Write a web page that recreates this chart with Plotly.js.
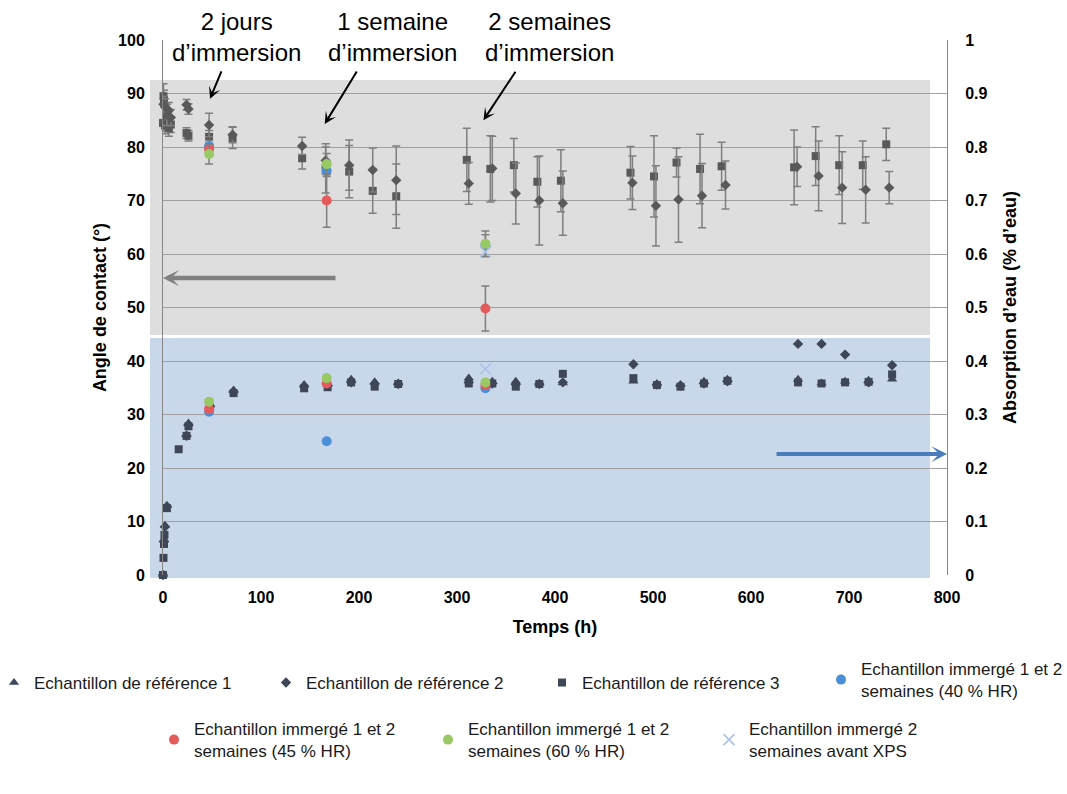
<!DOCTYPE html>
<html><head><meta charset="utf-8">
<script src="https://cdn.plot.ly/plotly-3.0.1.min.js"></script>
<style>html,body{margin:0;padding:0;background:#fff}#chart{width:1067px;height:794px}</style>
</head><body><div id="chart"></div>
<script>
// ---- Water absorption (fraction, right axis) ----
const ref1Time  = [0, 1, 2, 4, 24, 26, 48, 72, 144, 168, 192, 216, 240, 312, 336, 360, 384, 408, 480, 504, 528, 552, 576, 648, 672, 696, 720, 744];
const ref1Water = [0, 0.067, 0.093, 0.13, 0.262, 0.284, 0.318, 0.346, 0.356, 0.357, 0.366, 0.361, 0.359, 0.368, 0.362, 0.362, 0.358, 0.359, 0.362, 0.357, 0.356, 0.362, 0.366, 0.366, 0.359, 0.362, 0.364, 0.366];
const ref2Time  = [0, 1, 2, 4, 24, 26, 48, 72, 144, 168, 192, 216, 240, 312, 336, 360, 384, 408, 480, 504, 528, 552, 576, 648, 672, 696, 720, 744];
const ref2Water = [0, 0.062, 0.09, 0.128, 0.26, 0.28, 0.315, 0.342, 0.352, 0.354, 0.36, 0.357, 0.357, 0.36, 0.358, 0.356, 0.357, 0.36, 0.394, 0.356, 0.354, 0.358, 0.362, 0.432, 0.432, 0.412, 0.36, 0.392];
const ref3Time  = [0, 0.5, 1, 1.5, 4, 16, 24, 26, 48, 72, 144, 168, 192, 216, 240, 312, 336, 360, 384, 408, 480, 504, 528, 552, 576, 648, 672, 696, 720, 744];
const ref3Water = [0, 0.032, 0.058, 0.075, 0.125, 0.235, 0.26, 0.278, 0.313, 0.34, 0.349, 0.351, 0.36, 0.352, 0.357, 0.358, 0.358, 0.352, 0.357, 0.376, 0.368, 0.355, 0.352, 0.358, 0.363, 0.36, 0.358, 0.36, 0.361, 0.375];

// ---- Contact angle (degrees, left axis) ----
const ref2AngleTime = [0.5, 2, 4, 6, 8, 24, 26, 47, 71, 142, 166, 190, 214, 238, 312, 336, 360, 384, 408, 479, 503, 526, 550, 574, 647, 669, 693, 717, 741];
const ref2Angle     = [88, 87.5, 86, 86.8, 85.5, 87.9, 87.1, 84.1, 82.3, 80.2, 77.5, 76.6, 75.7, 73.8, 73.2, 76, 71.3, 70, 69.5, 73.3, 69.0, 70.2, 70.9, 72.9, 76.3, 74.6, 72.4, 72.0, 72.4];
const ref2AngleErr  = [1.5, 1.5, 2, 1.5, 1.5, 1, 1, 2.2, 1.5, 1.6, 2.5, 4.7, 4.1, 6.4, 3.9, 6, 5.7, 8.3, 6, 5, 7.5, 8, 6, 4.5, 3.7, 6.5, 6.7, 6.2, 3];
const ref3AngleTime = [0, 0.5, 1, 2, 4, 6, 8, 24, 26, 47, 71, 142, 166, 190, 214, 238, 310, 334, 358, 382, 406, 477, 501, 524, 548, 570, 644, 666, 690, 714, 738];
const ref3Angle     = [84.5, 89.5, 88.8, 84, 85.5, 83.5, 84.2, 82.6, 82.1, 81.9, 81.7, 77.9, 76, 75.4, 71.8, 70.8, 77.6, 75.9, 76.6, 73.5, 73.7, 75.2, 74.5, 77.1, 75.9, 76.4, 76.2, 78.3, 76.6, 76.6, 80.5];
const ref3AngleErr  = [1.5, 2.3, 1.8, 1.5, 1.8, 1.5, 1.5, 1, 1, 1.2, 2, 2, 4.6, 4.9, 4.2, 6, 5.9, 6.2, 5, 4.7, 5.8, 4.9, 7.6, 2.7, 6.5, 4.5, 7, 5.5, 5.5, 4.5, 3];

// ---- Immersed samples ----
const immTime = [47, 167, 329];
const imm40Angle = [80.2, 75.5, 61.6], imm40AngleErr = [1, 1, 2],   imm40Water = [0.305, 0.25, 0.349];
const imm45Angle = [79.6, 70, 49.8],   imm45AngleErr = [1, 5, 4.2], imm45Water = [0.31, 0.358, 0.355];
const imm60Angle = [78.7, 76.8, 61.9], imm60AngleErr = [1.9, 2, 2.4], imm60Water = [0.324, 0.368, 0.36];
const xpsTime = [329], xpsAngle = [60.4], xpsWater = [0.385];

// ---- Labels ----
const names = [
  'Echantillon de référence 1',
  'Echantillon de référence 2',
  'Echantillon de référence 3',
  'Echantillon immergé 1 et 2<br>semaines (40 % HR)',
  'Echantillon immergé 1 et 2<br>semaines (45 % HR)',
  'Echantillon immergé 1 et 2<br>semaines (60 % HR)',
  'Echantillon immergé 2<br>semaines avant XPS'
];
const FONT = 'Liberation Sans, Arial, sans-serif';
const caGray = '#595959', waterDark = '#3d4758';
const cBlue = '#4a90d9', cRed = '#e55a5a', cGreen = '#98c965', cX = '#a9c0e4';
const err = (arr) => ({type:'data', array:arr, visible:true, color:'#7f7f7f', thickness:1.5, width:4});

const traces = [
  // contact angle (left axis), not in legend
  {x:ref3AngleTime, y:ref3Angle, error_y:err(ref3AngleErr), mode:'markers', type:'scatter', yaxis:'y', showlegend:false, cliponaxis:false,
   marker:{symbol:'square', size:8, color:caGray}},
  {x:ref2AngleTime, y:ref2Angle, error_y:err(ref2AngleErr), mode:'markers', type:'scatter', yaxis:'y', showlegend:false, cliponaxis:false,
   marker:{symbol:'diamond', size:8, color:caGray}},
  {x:immTime, y:imm40Angle, error_y:err(imm40AngleErr), mode:'markers', type:'scatter', yaxis:'y', showlegend:false, cliponaxis:false,
   marker:{symbol:'circle', size:10, color:cBlue}},
  {x:immTime, y:imm45Angle, error_y:err(imm45AngleErr), mode:'markers', type:'scatter', yaxis:'y', showlegend:false, cliponaxis:false,
   marker:{symbol:'circle', size:10, color:cRed}},
  {x:immTime, y:imm60Angle, error_y:err(imm60AngleErr), mode:'markers', type:'scatter', yaxis:'y', showlegend:false, cliponaxis:false,
   marker:{symbol:'circle', size:10, color:cGreen}},
  {x:xpsTime, y:xpsAngle, mode:'markers', type:'scatter', yaxis:'y', showlegend:false, cliponaxis:false,
   marker:{symbol:'x-thin-open', size:11, color:cX, line:{width:1.5, color:cX}}},
  // water absorption (right axis), in legends
  {x:ref1Time, y:ref1Water, name:names[0], legend:'legend', mode:'markers', type:'scatter', yaxis:'y2', cliponaxis:false,
   marker:{symbol:'triangle-up', size:9, color:waterDark}},
  {x:ref2Time, y:ref2Water, name:names[1], legend:'legend2', mode:'markers', type:'scatter', yaxis:'y2', cliponaxis:false,
   marker:{symbol:'diamond', size:8, color:waterDark}},
  {x:ref3Time, y:ref3Water, name:names[2], legend:'legend3', mode:'markers', type:'scatter', yaxis:'y2', cliponaxis:false,
   marker:{symbol:'square', size:8, color:waterDark}},
  {x:immTime, y:imm40Water, name:names[3], legend:'legend4', mode:'markers', type:'scatter', yaxis:'y2', cliponaxis:false,
   marker:{symbol:'circle', size:10, color:cBlue}},
  {x:immTime, y:imm45Water, name:names[4], legend:'legend5', mode:'markers', type:'scatter', yaxis:'y2', cliponaxis:false,
   marker:{symbol:'circle', size:10, color:cRed}},
  {x:immTime, y:imm60Water, name:names[5], legend:'legend6', mode:'markers', type:'scatter', yaxis:'y2', cliponaxis:false,
   marker:{symbol:'circle', size:10, color:cGreen}},
  {x:xpsTime, y:xpsWater, name:names[6], legend:'legend7', mode:'markers', type:'scatter', yaxis:'y2', cliponaxis:false,
   marker:{symbol:'x-thin-open', size:11, color:cX, line:{width:1.5, color:cX}}}
];

// plot area: left 163, right 947, top 40, bottom 575
const PL = 163, PW = 784, PT = 40, PH = 535;
const px2x = (px) => (px - PL) / PW;
const py2y = (py) => (PT + PH - py) / PH;
function leg(textStartPx, centerPy) {
  return {x: px2x(textStartPx - 40), y: py2y(centerPy), xanchor:'left', yanchor:'middle',
          bgcolor:'rgba(0,0,0,0)', borderwidth:0, valign:'middle', orientation:'v',
          font:{family:FONT, size:17, color:'#1a1a1a'}};
}

const layout = {
  width:1067, height:794,
  paper_bgcolor:'#ffffff', plot_bgcolor:'rgba(0,0,0,0)',
  margin:{l:PL, r:1067-PL-PW, t:PT, b:794-PT-PH, autoexpand:false},
  font:{family:FONT, color:'#000'},
  xaxis:{range:[0,800], dtick:100, showgrid:false, zeroline:false, showline:false, ticks:'', ticklabelstandoff:11,
         tickfont:{family:FONT, size:16, weight:'bold', color:'#000'},
         title:{text:'Temps (h)', font:{family:FONT, size:18, weight:'bold', color:'#000'}, standoff:15}},
  yaxis:{range:[0,100], dtick:10, showgrid:true, gridcolor:'#a0a0a0', gridwidth:1, zeroline:false,
         showline:true, linecolor:'#868686', linewidth:1, ticks:'', ticklabelstandoff:14,
         tickfont:{family:FONT, size:16, weight:'bold', color:'#000'},
         title:{text:'Angle de contact (°)', font:{family:FONT, size:18, weight:'bold', color:'#000'}, standoff:6}},
  yaxis2:{range:[0,1], dtick:0.1, overlaying:'y', side:'right', showgrid:false, zeroline:false,
          showline:true, linecolor:'#868686', linewidth:1, ticks:'', ticklabelstandoff:14,
          tickfont:{family:FONT, size:16, weight:'bold', color:'#000'},
          title:{text:'Absorption d’eau (% d’eau)', font:{family:FONT, size:18, weight:'bold', color:'#000'}, standoff:16}},
  shapes:[
    {type:'rect', xref:'paper', yref:'paper', layer:'below', line:{width:0}, fillcolor:'#dedede',
     x0:px2x(150), x1:px2x(930), y0:py2y(335), y1:py2y(80)},
    {type:'rect', xref:'paper', yref:'paper', layer:'below', line:{width:0}, fillcolor:'#c9d7ea',
     x0:px2x(150), x1:px2x(930), y0:py2y(578), y1:py2y(338)}
  ],
  annotations:[
    {text:'2 jours<br>d’immersion', x:74.5, xref:'x', y:py2y(37), yref:'paper', yanchor:'middle', showarrow:false, font:{family:FONT, size:24, color:'#000'}},
    {text:'1 semaine<br>d’immersion', x:234, xref:'x', y:py2y(37), yref:'paper', yanchor:'middle', showarrow:false, font:{family:FONT, size:24, color:'#000'}},
    {text:'2 semaines<br>d’immersion', x:394, xref:'x', y:py2y(37), yref:'paper', yanchor:'middle', showarrow:false, font:{family:FONT, size:24, color:'#000'}},
    {text:'', x:48, y:89, xref:'x', yref:'y', ax:12, ay:-29, showarrow:true, arrowhead:3, arrowsize:1, arrowwidth:2, arrowcolor:'#000'},
    {text:'', x:165, y:84.3, xref:'x', yref:'y', ax:33, ay:-54, showarrow:true, arrowhead:3, arrowsize:1, arrowwidth:2, arrowcolor:'#000'},
    {text:'', x:327, y:85, xref:'x', yref:'y', ax:33, ay:-50, showarrow:true, arrowhead:3, arrowsize:1, arrowwidth:2, arrowcolor:'#000'},
    {text:'', x:0, y:55.5, xref:'x', yref:'y', ax:174, ay:0, showarrow:true, arrowhead:3, arrowsize:0.6, arrowwidth:4.5, arrowcolor:'#808080'},
    {text:'', x:800, y:0.226, xref:'x', yref:'y2', ax:-172, ay:0, showarrow:true, arrowhead:3, arrowsize:0.65, arrowwidth:4, arrowcolor:'#4a7dbb'}
  ],
  legend:leg(34, 683), legend2:leg(306, 683), legend3:leg(582, 683), legend4:leg(861, 680),
  legend5:leg(194, 740), legend6:leg(468, 740), legend7:leg(749, 740)
};

Plotly.newPlot('chart', traces, layout, {displayModeBar:false, staticPlot:true});
</script>
</body></html>
